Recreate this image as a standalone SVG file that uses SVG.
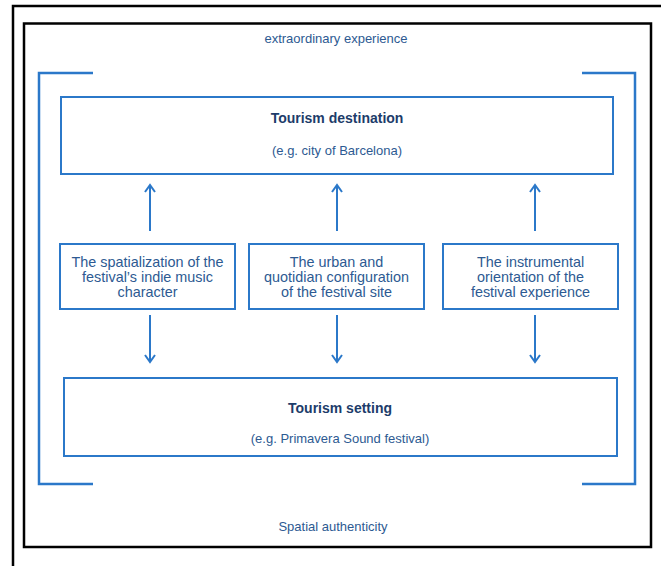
<svg xmlns="http://www.w3.org/2000/svg" width="661" height="566" viewBox="0 0 661 566">
<defs>
<style>
.frame{fill:none;stroke:#000;stroke-width:2.5}
.box{fill:#fff;stroke:#2b78c9;stroke-width:2}
.br{fill:none;stroke:#2b78c9;stroke-width:2.5}
.ar{stroke:#2b78c9;stroke-width:2;fill:none}
.t{font-family:"Liberation Sans",Arial,sans-serif;fill:#2d5a92;text-anchor:middle}
.title{font-family:"Liberation Sans",Arial,sans-serif;fill:#1d3c6a;text-anchor:middle;font-weight:bold;font-size:14px}
</style>
<marker id="ah" markerWidth="12" markerHeight="12" refX="9" refY="6" orient="auto" markerUnits="userSpaceOnUse" viewBox="0 0 12 12">
<path d="M2,1 L9,6 L2,11" fill="none" stroke="#2b78c9" stroke-width="2"/>
</marker>
</defs>
<rect width="661" height="566" fill="#fff"/>
<g id="outer-frame">
<polyline class="frame" points="13,566 13,6 661,6"/>
<rect class="frame" x="24" y="23.5" width="627" height="523.5"/>
</g>
<g id="brackets">
<polyline class="br" points="93,73 39,73 39,484 93,484"/>
<polyline class="br" points="582,73 635,73 635,484 582,484"/>
</g>
<text class="t" x="336" y="43" font-size="13">extraordinary experience</text>
<text class="t" x="333" y="531" font-size="13">Spatial authenticity</text>
<g id="destination">
<rect class="box" x="61" y="97" width="552" height="77"/>
<text class="title" x="337" y="123">Tourism destination</text>
<text class="t" x="337" y="155" font-size="13">(e.g. city of Barcelona)</text>
</g>
<g id="spatialization">
<rect class="box" x="60" y="244" width="175" height="65"/>
<text class="t" x="147.5" y="266.5" font-size="14.4">The spatialization of the</text>
<text class="t" x="147.5" y="281.5" font-size="14.4">festival’s indie music</text>
<text class="t" x="147.5" y="297" font-size="14.4">character</text>
</g>
<g id="urban">
<rect class="box" x="249" y="244" width="175" height="65"/>
<text class="t" x="336.5" y="266.5" font-size="14.4">The urban and</text>
<text class="t" x="336.5" y="281.5" font-size="14.4">quotidian configuration</text>
<text class="t" x="336.5" y="297" font-size="14.4">of the festival site</text>
</g>
<g id="instrumental">
<rect class="box" x="443" y="244" width="175" height="65"/>
<text class="t" x="530.5" y="266.5" font-size="14.4">The instrumental</text>
<text class="t" x="530.5" y="281.5" font-size="14.4">orientation of the</text>
<text class="t" x="530.5" y="297" font-size="14.4">festival experience</text>
</g>
<g id="setting">
<rect class="box" x="64" y="378" width="553" height="78"/>
<text class="title" x="340" y="413">Tourism setting</text>
<text class="t" x="340" y="443" font-size="13">(e.g. Primavera Sound festival)</text>
</g>
<g id="connectors">
<line class="ar" x1="150" y1="231" x2="150" y2="185" marker-end="url(#ah)"/>
<line class="ar" x1="337" y1="231" x2="337" y2="185" marker-end="url(#ah)"/>
<line class="ar" x1="535" y1="231" x2="535" y2="185" marker-end="url(#ah)"/>
<line class="ar" x1="150" y1="315" x2="150" y2="362" marker-end="url(#ah)"/>
<line class="ar" x1="337" y1="315" x2="337" y2="362" marker-end="url(#ah)"/>
<line class="ar" x1="535" y1="315" x2="535" y2="362" marker-end="url(#ah)"/>
</g>
</svg>
